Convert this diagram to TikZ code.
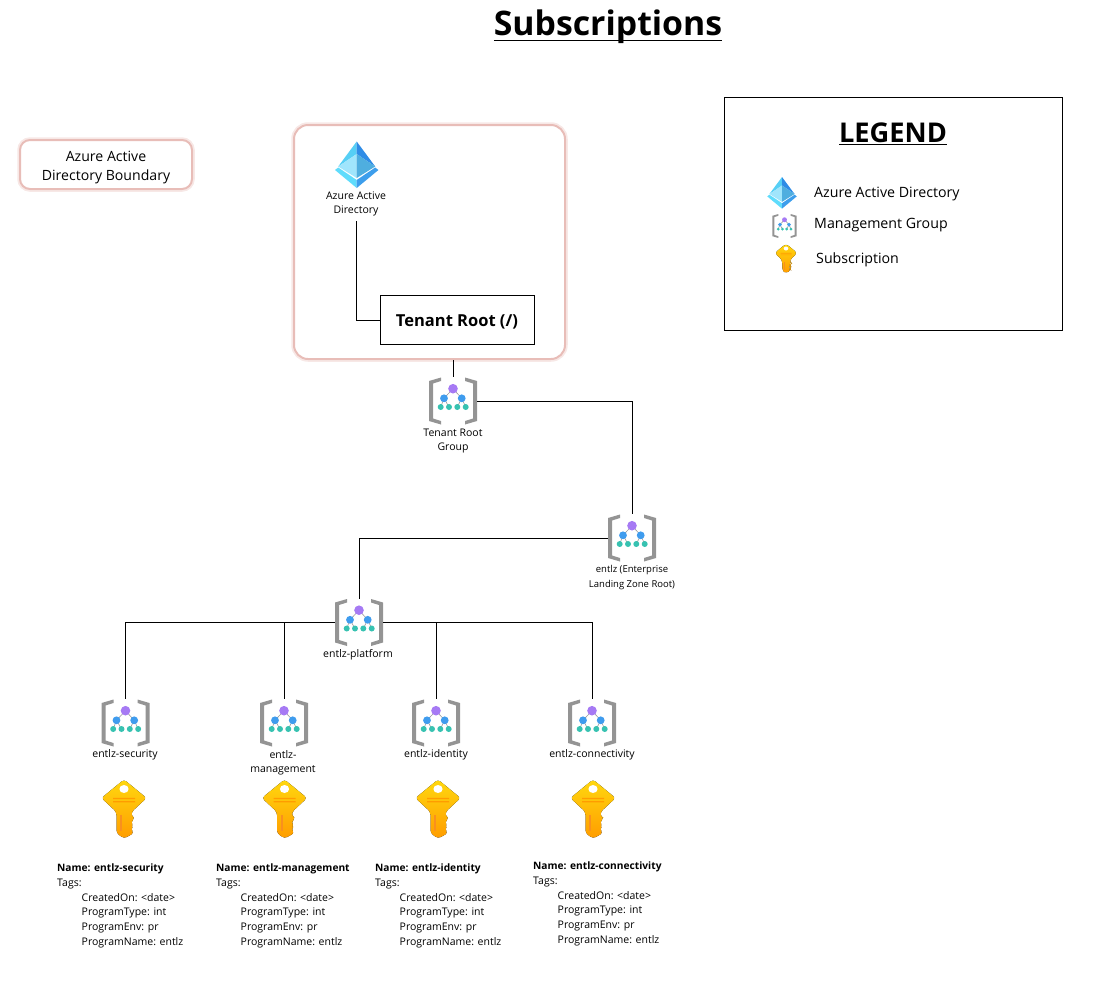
\documentclass[tikz,border=0pt]{standalone}
\usepackage{fontspec}
\setmainfont{Open Sans}
\definecolor{halo}{HTML}{E8BDB8}
\definecolor{mggray}{HTML}{949494}
\definecolor{mgline}{HTML}{9A9A9A}
\definecolor{mgpurple}{HTML}{A67AF4}
\definecolor{mgblue}{HTML}{3F9CEE}
\definecolor{mgteal}{HTML}{37C2B1}
\definecolor{aadA}{HTML}{56CFF5}
\definecolor{aadB}{HTML}{2F8CE6}
\definecolor{aadC}{HTML}{A0E5FC}
\definecolor{aadD}{HTML}{4FAEDF}
\definecolor{aadE}{HTML}{5FDCFC}
\definecolor{aadF}{HTML}{3D9EEC}
\definecolor{keyT}{HTML}{FFD70F}
\definecolor{keyB}{HTML}{FF9C00}
\definecolor{keyS}{HTML}{F9901E}
\newcommand{\fsz}[2]{\fontsize{#1}{#2}\selectfont}
\newcommand{\lowered}[2]{\raisebox{-#1}[\height][\depth]{#2}}
\newcommand{\subinfo}[1]{{\bfseries\fontsize{10.2}{14.8}\selectfont Name: #1}\\Tags:\\\hspace*{24.5pt}CreatedOn: <date>\\\hspace*{24.5pt}ProgramType: int\\\hspace*{24.5pt}ProgramEnv: pr\\\hspace*{24.5pt}ProgramName: entlz}
\tikzset{
  x=1pt,y=-1pt,
  boundarybox/.style={rounded corners=#1,fill=white,draw=halo,line width=2pt,
    preaction={draw=halo,opacity=.35,line width=5.5pt}},
  iconbox/.style={inner sep=0pt,minimum width=48pt,minimum height=47pt},
  iconlabel/.style={align=center,inner sep=0pt,font=\fsz{10.5}{14.3}},
  infotext/.style={align=left,anchor=north west,inner sep=0pt,font=\fsz{10.5}{14.8}},
  legendtext/.style={anchor=west,inner sep=0pt,font=\fsz{14.2}{16}},
  link/.style={draw=black,line width=1pt},
  pics/aadicon/.style={code={
    \fill[aadE] (-21.7,5) -- (-18.5,2.5) -- (0,15) -- (0,23) -- cycle;
    \fill[aadF] (21.7,5) -- (18.5,2.5) -- (0,15) -- (0,23) -- cycle;
    \fill[aadA] (0,-23.5) -- (-18.5,1.5) -- (0,-11) -- cycle;
    \fill[aadB] (0,-23.5) -- (18.5,1.5) -- (0,-11) -- cycle;
    \fill[aadC] (0,-11) -- (-18.5,1.5) -- (0,13) -- cycle;
    \fill[aadD] (0,-11) -- (18.5,1.5) -- (0,13) -- cycle;
  }},
  pics/mgicon/.style={code={
    \fill[mggray] (-12,-23.5) -- (-24,-20) -- (-24,20) -- (-12,23.5) -- (-12,20) -- (-20,17.5) -- (-20,-17.5) -- (-12,-20) -- cycle;
    \fill[mggray] (12,-23.5) -- (24,-20) -- (24,20) -- (12,23.5) -- (12,20) -- (20,17.5) -- (20,-17.5) -- (12,-20) -- cycle;
    \draw[mgline,line width=.6pt] (-12.3,6) -- (-9,-2.7) -- (0,-12.3) -- (8.7,-2.7) -- (12.7,6);
    \draw[mgline,line width=.6pt] (-4,6) -- (-9,-2.7) (4.3,6) -- (8.7,-2.7);
    \fill[mgpurple] (0,-12.3) circle[radius=4.8];
    \fill[mgblue] (-9,-2.7) circle[radius=3.9] (8.7,-2.7) circle[radius=3.9];
    \fill[mgteal] (-12.3,6) circle[radius=3] (-4,6) circle[radius=3] (4.3,6) circle[radius=3] (12.7,6) circle[radius=3];
  }},
  pics/keyicon/.style={code={
    \fill[top color=keyT,bottom color=keyB,rounded corners=3pt]
      (0,-29.5) -- (22.5,-11) -- (7.5,3) -- (7.5,7) -- (11,9.5) -- (6.5,13) -- (9.5,17) -- (6.5,20) -- (10,24) -- (0,29.5) -- (-7.5,24) -- (-7.5,3) -- (-22.5,-11) -- cycle;
    \fill[white] (0,-20) ellipse[x radius=4.6,y radius=4];
    \fill[keyB] (-11,-11.2) rectangle (11,-10) (-11,-7.8) rectangle (11,-6.6);
    \fill[keyS] (-3.6,6) rectangle (-2,22);
  }},
}
\begin{document}
\begin{tikzpicture}
\useasboundingbox (0,0) rectangle (1109,986);

% Title
\node[inner sep=0pt,font=\bfseries\fsz{33.8}{38}] (title) at (608,25) {\underline{\raisebox{0pt}[\height][3.5pt]{Subscriptions}}};

% Boundary key
\node[boundarybox=10pt,minimum width=172pt,minimum height=49pt,inner sep=0pt,align=center,font=\fsz{14.1}{19}] (boundkey) at (106,164.5) {\lowered{3pt}{Azure Active}\\\lowered{3pt}{Directory Boundary}};

% Boundary
\node[boundarybox=14pt,minimum width=271pt,minimum height=234pt,inner sep=0pt] (boundary) at (429.5,242) {};

% Legend
\node[draw=black,line width=1pt,minimum width=338pt,minimum height=233pt,inner sep=0pt] (legendbox) at (893,213.5) {};
\node[inner sep=0pt,font=\bfseries\fsz{27.2}{30}] (legendtitle) at (893,134) {\underline{LEGEND}};
\pic[scale=.68] at (782,193) {aadicon};
\pic[scale=.51] at (784.5,226) {mgicon};
\pic[scale=.5] at (786,258.5) {keyicon};
\node[legendtext] (l1) at (814,194) {Azure Active Directory};
\node[legendtext] (l2) at (814,225) {Management Group};
\node[legendtext] (l3) at (816,260) {Subscription};

% Azure AD and tenant root
\pic at (356.7,165) {aadicon};
\node[iconlabel,inner ysep=5pt] (aadlabel) at (356,204) {Azure Active\\Directory};
\node[draw=black,line width=1pt,fill=white,minimum width=154pt,minimum height=49pt,inner sep=0pt,font=\bfseries\fsz{16.5}{20}] (tenant) at (457,320) {\lowered{2pt}{Tenant Root (/)}};

% Management groups
\node[iconbox] (mgroot) at (453,401) {};
\node[iconbox] (mgentlz) at (632,538) {};
\node[iconbox] (mgplat) at (359,622.5) {};
\node[iconbox] (mgsec) at (125.5,723) {};
\node[iconbox] (mgman) at (284,723) {};
\node[iconbox] (mgid) at (436,723) {};
\node[iconbox] (mgconn) at (592,723) {};
\pic at (mgroot) {mgicon};
\pic at (mgentlz) {mgicon};
\pic at (mgplat) {mgicon};
\pic at (mgsec) {mgicon};
\pic at (mgman) {mgicon};
\pic at (mgid) {mgicon};
\pic at (mgconn) {mgicon};

\node[iconlabel] (lbroot) at (453,441) {Tenant Root\\Group};
\node[iconlabel,font=\fsz{9.5}{15}] (lbentlz) at (632,577.5) {entlz (Enterprise\\Landing Zone Root)};
\node[iconlabel] (lbplat) at (358,655) {entlz-platform};
\node[iconlabel] (lbsec) at (125,755) {entlz-security};
\node[iconlabel] (lbman) at (283,762.5) {entlz-\\management};
\node[iconlabel] (lbid) at (436,755) {entlz-identity};
\node[iconlabel] (lbconn) at (592,755) {entlz-connectivity};

% Keys
\pic at (124,809) {keyicon};
\pic at (284.5,809) {keyicon};
\pic at (438,809) {keyicon};
\pic at (593,809) {keyicon};

% Subscription details
\node[infotext] (i1) at (57,863.5) {\subinfo{entlz-security}};
\node[infotext] (i2) at (216,863.5) {\subinfo{entlz-management}};
\node[infotext] (i3) at (375,863.5) {\subinfo{entlz-identity}};
\node[infotext] (i4) at (533,861.5) {\subinfo{entlz-connectivity}};

% Connectors
\draw[link] (aadlabel.south) |- (tenant.west);
\draw[link] (mgroot.north |- boundary.south) -- (mgroot.north);
\draw[link] (mgroot.east) -| (mgentlz.north);
\draw[link] (mgentlz.west) -| (mgplat.north);
\draw[link] (mgplat.west) -| (mgsec.north);
\draw[link] (mgplat.east) -| (mgconn.north);
\draw[link] (mgman.north |- mgplat.west) -- (mgman.north);
\draw[link] (mgid.north |- mgplat.east) -- (mgid.north);
\end{tikzpicture}
\end{document}
